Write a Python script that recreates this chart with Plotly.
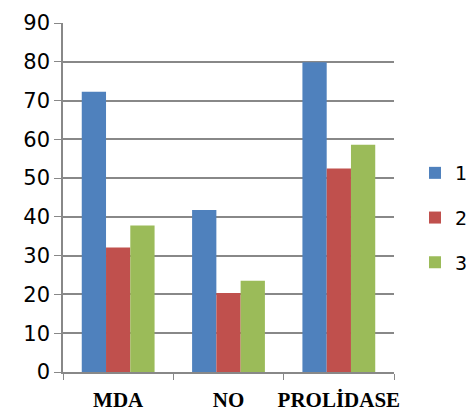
import plotly.graph_objects as go

categories = ["MDA", "NO", "PROLİDASE"]
series_names = ["1", "2", "3"]
s1 = [72.3, 41.8, 79.9]
s2 = [32.1, 20.4, 52.5]
s3 = [37.8, 23.5, 58.6]
colors = ["#4F81BD", "#C0504D", "#9BBB59"]
y_ticks = [0, 10, 20, 30, 40, 50, 60, 70, 80, 90]

fig = go.Figure()
for i, (name, vals) in enumerate(zip(series_names, [s1, s2, s3])):
    fig.add_trace(go.Bar(
        x=categories, y=vals, name=name, legendgroup=name,
        marker=dict(color=colors[i], line=dict(width=0)),
    ))

W, H = 490, 411
fig.update_layout(
    width=W, height=H,
    margin=dict(l=55, r=W - 386, t=15, b=47, autoexpand=False),
    paper_bgcolor="white", plot_bgcolor="white",
    barmode="group", bargap=0.34, bargroupgap=0,
    legend=dict(xref="container", yref="container",
                x=407 / W, xanchor="left", y=1 - 210 / H, yanchor="middle",
                font=dict(family="DejaVu Sans", size=19, color="black"),
                tracegroupgap=17, itemwidth=30),
    xaxis=dict(
        tickson="boundaries", ticks="outside", ticklen=6, tickcolor="#888888",
        showline=True, linecolor="#888888", linewidth=1.5, tickangle=0,
        ticklabelstandoff=8,
        tickfont=dict(family="Liberation Serif", size=21, color="black", weight="bold"),
        showgrid=False,
    ),
    yaxis=dict(
        range=[0, 90], tickvals=y_ticks, ticks="outside", ticklen=7, tickcolor="#888888",
        showline=True, linecolor="#888888", linewidth=1.5,
        gridcolor="#888888", gridwidth=1.5,
        tickfont=dict(family="DejaVu Sans", size=21, color="black"),
        zeroline=False,
    ),
)

fig.write_html("out.html")
